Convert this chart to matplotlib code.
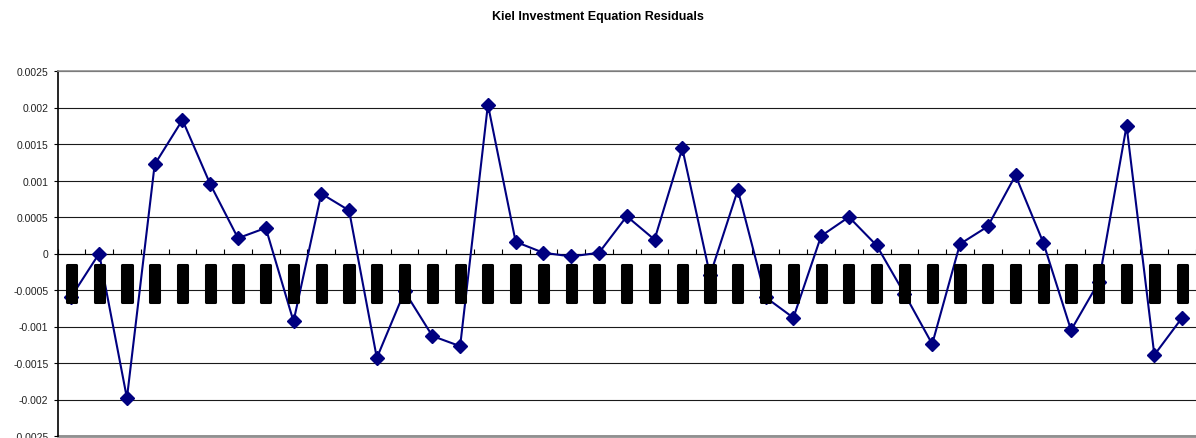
import matplotlib
matplotlib.use("Agg")
import matplotlib.pyplot as plt
from matplotlib.ticker import FuncFormatter, FixedLocator

# residuals of the Kiel investment equation, one per period
periods = list(range(1, 42))
residuals = [
    -0.00059, 0.0, -0.00198, 0.00122, 0.00183, 0.00095, 0.00021, 0.00035,
    -0.00093, 0.00082, 0.00059, -0.00143, -0.00052, -0.00113, -0.00127,
    0.00204, 0.00016, 0.00001, -0.00004, 0.00001, 0.00051, 0.00019,
    0.00144, -0.0003, 0.00087, -0.0006, -0.00088, 0.00024, 0.0005,
    0.00011, -0.00055, -0.00124, 0.00013, 0.00037, 0.00107, 0.00015,
    -0.00105, -0.00039, 0.00175, -0.00139, -0.00088,
]
y_ticks = [0.0025, 0.002, 0.0015, 0.001, 0.0005, 0, -0.0005, -0.001,
           -0.0015, -0.002, -0.0025]

plt.rcParams["font.family"] = ["Liberation Sans", "DejaVu Sans"]

fig = plt.figure(figsize=(11.96, 4.39), dpi=100)
ax = fig.add_axes([57.5 / 1196, 2 / 439, 1 - 57.5 / 1196, 365 / 439])

x = list(range(len(periods)))
ax.plot(x, residuals, color="#000080", lw=1.5, marker="D", ms=7.5,
        mec="#000080", mfc="#000080", zorder=3)

# category labels come out as solid black blocks below the zero line
ax.bar(x, [-0.00051] * len(x), bottom=-0.00016, width=0.33, color="black",
       edgecolor="black", lw=2.2, joinstyle="round", zorder=4)

ax.set_xlim(-0.5, len(periods) - 0.5)
ax.set_ylim(-0.0025, 0.0025)
ax.yaxis.set_major_locator(FixedLocator(y_ticks))
ax.yaxis.set_major_formatter(FuncFormatter(lambda v, p: "%g" % v))
ax.tick_params(axis="y", labelsize=7.5, length=3, width=0.8, pad=3.5,
               colors="black", labelcolor="#222222")

ax.set_xticks([i - 0.5 for i in range(len(periods) + 1)])
ax.set_xticklabels([])
ax.tick_params(axis="x", direction="in", length=3.5, width=0.8)

ax.grid(axis="y", color="#1a1a1a", lw=0.8, zorder=1)
ax.spines["bottom"].set_position(("data", 0))
ax.spines["bottom"].set_linewidth(0.8)
ax.spines["left"].set_linewidth(1.2)
ax.spines["top"].set_color("#909090")
ax.spines["top"].set_linewidth(1.2)
ax.spines["right"].set_visible(False)
ax.axhline(-0.0025, color="#909090", lw=2, clip_on=False, zorder=1)

fig.text(0.5, 1 - 17 / 439, "Kiel Investment Equation Residuals",
         ha="center", va="center", fontsize=9, fontweight="bold")

fig.savefig("out.png", dpi=100)
